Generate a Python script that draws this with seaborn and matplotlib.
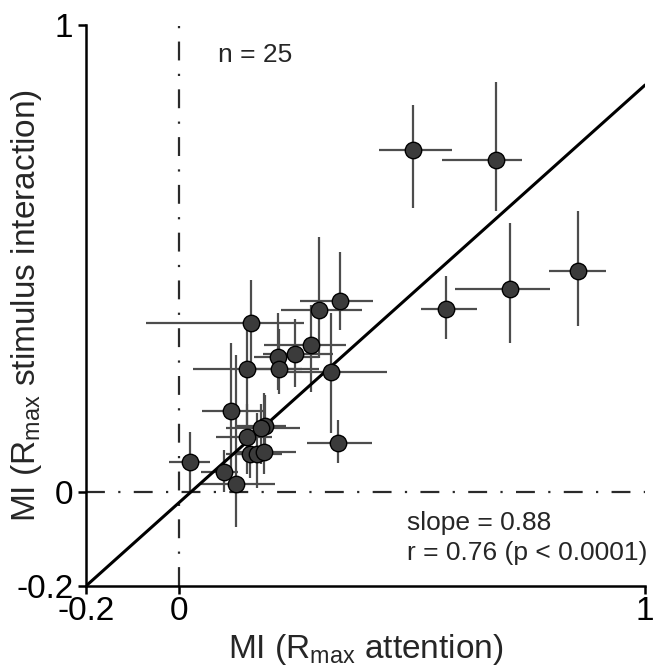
import matplotlib
matplotlib.use("Agg")
import matplotlib.pyplot as plt
import seaborn as sns
import numpy as np
import pandas as pd

# ---- data ----
mi_att = [0.501, 0.680, 0.573, 0.710, 0.855, 0.155, 0.146, 0.212, 0.215, 0.248,
          0.282, 0.300, 0.346, 0.325, 0.340, 0.112, 0.185, 0.176, 0.146, 0.153,
          0.168, 0.181, 0.023, 0.096, 0.123]
mi_int = [0.733, 0.711, 0.393, 0.435, 0.474, 0.363, 0.265, 0.290, 0.264, 0.296,
          0.315, 0.390, 0.410, 0.258, 0.105, 0.174, 0.142, 0.138, 0.118, 0.082,
          0.082, 0.087, 0.065, 0.044, 0.019]
x_lo = [0.428, 0.565, 0.518, 0.592, 0.793, -0.072, 0.030, 0.160, 0.140, 0.180,
        0.181, 0.219, 0.260, 0.220, 0.274, 0.049, 0.120, 0.100, 0.080, 0.100,
        0.110, 0.120, -0.022, 0.046, 0.046]
x_hi = [0.585, 0.735, 0.639, 0.796, 0.916, 0.267, 0.264, 0.300, 0.300, 0.330,
        0.357, 0.392, 0.415, 0.447, 0.414, 0.185, 0.230, 0.260, 0.200, 0.220,
        0.200, 0.250, 0.067, 0.127, 0.206]
y_lo = [0.609, 0.602, 0.328, 0.320, 0.356, 0.265, 0.110, 0.220, 0.210, 0.225,
        0.215, 0.288, 0.348, 0.127, 0.062, 0.050, 0.070, 0.060, 0.040, 0.030,
        0.010, 0.040, 0.001, 0.000, -0.074]
y_hi = [0.829, 0.877, 0.464, 0.577, 0.602, 0.455, 0.360, 0.383, 0.350, 0.371,
        0.401, 0.547, 0.514, 0.383, 0.155, 0.320, 0.208, 0.190, 0.190, 0.140,
        0.170, 0.213, 0.130, 0.090, 0.295]

fit_slope = 0.893
fit_anchor = -0.2          # fit line passes through (-0.2, -0.2)
tick_vals = [-0.2, 0, 1]
tick_labels = ["-0.2", "0", "1"]

df = pd.DataFrame({"x": mi_att, "y": mi_int})

# ---- style ----
sns.set_style("white")
plt.rcParams["font.family"] = ["Liberation Sans", "DejaVu Sans"]
plt.rcParams["mathtext.default"] = "regular"

fig = plt.figure(figsize=(6.63, 6.70), dpi=100)
ax = fig.add_axes([0.1297, 0.1254, 0.8433, 0.8373])

# reference lines
ax.axvline(0, color="#2a2a2a", lw=1.6, linestyle=(0, (8.5, 6, 1, 6)), zorder=1)
ax.axhline(0, color="#2a2a2a", lw=1.6, linestyle=(0, (8.5, 6, 1, 6)), zorder=1)

# error bars
xa = np.array(mi_att); ya = np.array(mi_int)
xerr = np.vstack([xa - np.array(x_lo), np.array(x_hi) - xa])
yerr = np.vstack([ya - np.array(y_lo), np.array(y_hi) - ya])
ax.errorbar(xa, ya, xerr=xerr, yerr=yerr, fmt="none", ecolor="#4d4d4d",
            elinewidth=1.6, capsize=0, zorder=2)

# regression line
xl = np.array([-0.2, 1.0])
sns.lineplot(x=xl, y=fit_anchor + (xl - fit_anchor) * fit_slope, color="black",
             lw=2.2, ax=ax, zorder=3)

# points
sns.scatterplot(data=df, x="x", y="y", s=140, color="#3b3b3b", edgecolor="black",
                linewidth=1.0, ax=ax, zorder=4)

ax.set_xlim(-0.2, 1)
ax.set_ylim(-0.2, 1)
ax.set_xticks(tick_vals)
ax.set_xticklabels(tick_labels)
ax.set_yticks(tick_vals)
ax.set_yticklabels(tick_labels)
ax.tick_params(axis="both", direction="out", length=6, width=1.8, labelsize=24,
               bottom=True, left=True, colors="black")
ax.tick_params(axis="x", pad=1)
ax.tick_params(axis="y", pad=3)
for side in ["top", "right"]:
    ax.spines[side].set_visible(False)
for side in ["left", "bottom"]:
    ax.spines[side].set_linewidth(1.8)
    ax.spines[side].set_color("black")

ax.set_xlabel("MI (R$_{max}$ attention)", fontsize=24, labelpad=4)
ax.set_ylabel("MI (R$_{max}$ stimulus interaction)", fontsize=24)
ax.yaxis.set_label_coords(-0.075, 0.5)

ax.text(0.084, 0.936, "n = 25", fontsize=19, va="center", ha="left")
ax.text(0.489, -0.066, "slope = 0.88", fontsize=19, va="center", ha="left")
ax.text(0.489, -0.130, "r = 0.76 (p < 0.0001)", fontsize=19, va="center", ha="left")

fig.savefig("out.png", dpi=100)
